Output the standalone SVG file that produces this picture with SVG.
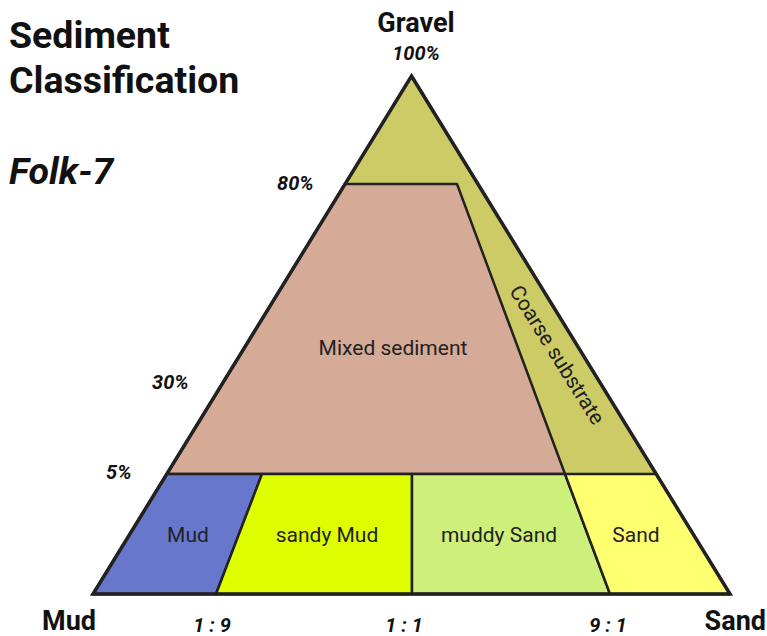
<svg xmlns="http://www.w3.org/2000/svg" width="767" height="636" viewBox="0 0 767 636">
<style>
  .edge{stroke:#222;stroke-width:2.5;stroke-linejoin:round}
  .lbl{font-family:Roboto,"Liberation Sans",sans-serif;font-size:21px;fill:#222;text-anchor:middle}
  .pct{font-family:Roboto,"Liberation Sans",sans-serif;font-size:20px;font-weight:bold;font-style:italic;fill:#111}
  .axis{font-family:Roboto,"Liberation Sans",sans-serif;font-size:27px;font-weight:bold;fill:#111}
  .title{font-family:Roboto,"Liberation Sans",sans-serif;font-size:37.5px;font-weight:bold;fill:#111}
</style>
<rect width="767" height="636" fill="#fff"/>
<g id="title">
  <text class="title" x="9" y="48">Sediment</text>
  <text class="title" x="9" y="93">Classification</text>
  <text class="title" x="9" y="184" font-style="italic">Folk-7</text>
</g>
<g id="coarse">
  <polygon class="edge" points="411.5,76 730,594 93,594" fill="#cccb66"/>
  <text class="lbl" transform="translate(557,355) rotate(58)" dominant-baseline="central">Coarse substrate</text>
</g>
<g id="mixed">
  <polygon class="edge" points="345,184 457,184 565,474 167,474" fill="#d5ab98"/>
  <text class="lbl" x="393" y="355">Mixed sediment</text>
</g>
<g id="mud">
  <polygon class="edge" points="167,474 262,474 216,594 93,594" fill="#6677cc"/>
  <text class="lbl" x="188" y="542">Mud</text>
</g>
<g id="sandy-mud">
  <polygon class="edge" points="262,474 412,474 412,594 216,594" fill="#ddff00"/>
  <text class="lbl" x="327" y="542">sandy Mud</text>
</g>
<g id="muddy-sand">
  <polygon class="edge" points="412,474 565,474 610,594 412,594" fill="#ccf07a"/>
  <text class="lbl" x="499" y="542">muddy Sand</text>
</g>
<g id="sand">
  <polygon class="edge" points="565,474 656,474 730,594 610,594" fill="#ffff70"/>
  <text class="lbl" x="636" y="542">Sand</text>
</g>
<g id="outline">
  <polygon points="411.5,76 730,594 93,594" fill="none" stroke="#222" stroke-width="3.5" stroke-linejoin="miter"/>
</g>
<g id="labels">
  <text class="axis" x="416" y="32" text-anchor="middle">Gravel</text>
  <text class="pct" x="416" y="60" text-anchor="middle">100%</text>
  <text class="pct" x="277" y="190">80%</text>
  <text class="pct" x="152" y="389">30%</text>
  <text class="pct" x="106" y="479">5%</text>
  <text class="axis" x="42" y="630">Mud</text>
  <text class="axis" x="766" y="630" text-anchor="end">Sand</text>
  <text class="pct" x="212" y="632" text-anchor="middle">1 : 9</text>
  <text class="pct" x="404" y="632" text-anchor="middle">1 : 1</text>
  <text class="pct" x="608" y="632" text-anchor="middle">9 : 1</text>
</g>
</svg>
